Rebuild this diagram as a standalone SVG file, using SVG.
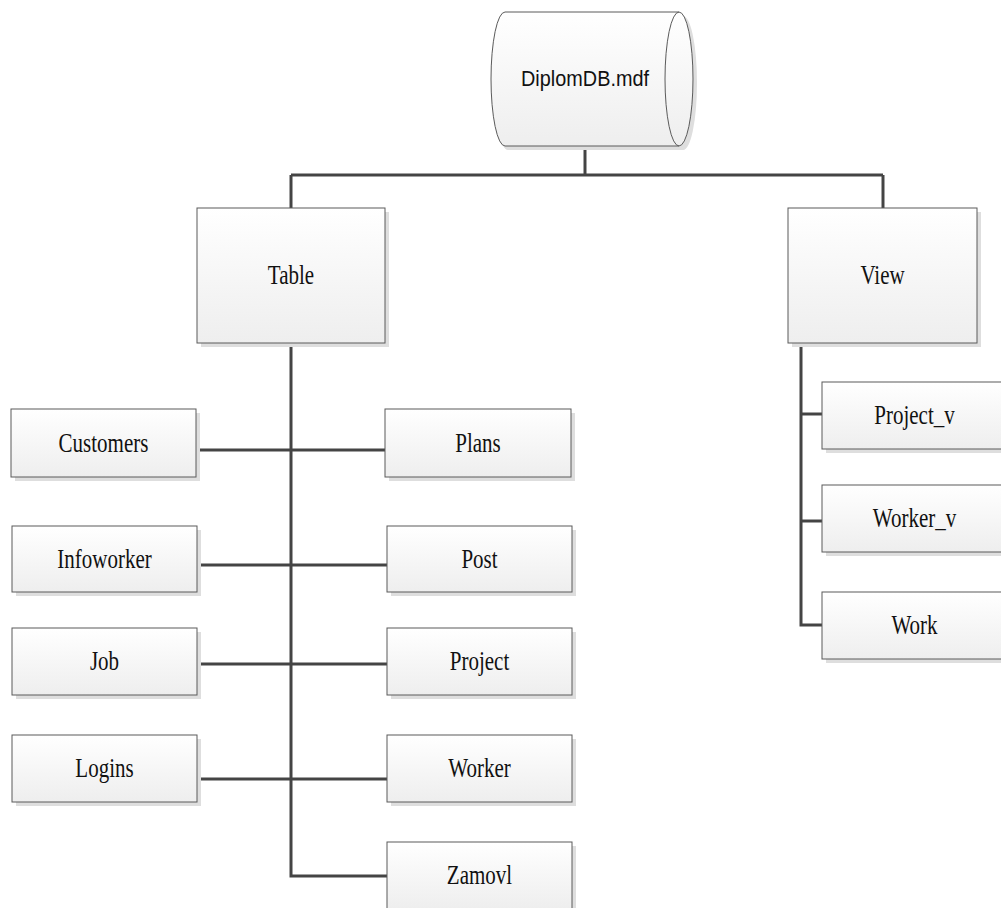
<svg xmlns="http://www.w3.org/2000/svg" width="1001" height="908" viewBox="0 0 1001 908">
  <style>
    .box { fill: url(#g); stroke: #5a5a5a; stroke-width: 1; }
    .sh { fill: #dedede; }
    .lbl { font-family: "Liberation Serif", "Times New Roman", serif; font-size: 21px; fill: #111; text-anchor: middle; }
    .sans { font-family: "Liberation Sans", Arial, sans-serif; font-size: 19px; fill: #111; text-anchor: middle; }
    .con { fill: none; stroke: #444; stroke-width: 3; }
  </style>
  <defs>
    <linearGradient id="g" x1="0" y1="0" x2="0" y2="1">
      <stop offset="0" stop-color="#ffffff"/>
      <stop offset="1" stop-color="#eeeeee"/>
    </linearGradient>
  </defs>
  <rect width="1001" height="908" fill="#ffffff"/>

  <g id="connectors">
    <path class="con" d="M585,146 V175"/>
    <path class="con" d="M291,175 H883"/>
    <path class="con" d="M291,175 V208"/>
    <path class="con" d="M883,175 V208"/>
    <path class="con" d="M291,343 V876 H387"/>
    <path class="con" d="M193,450 H385"/>
    <path class="con" d="M197,565 H387"/>
    <path class="con" d="M197,664 H387"/>
    <path class="con" d="M197,779 H387"/>
    <path class="con" d="M801,342 V625 H822"/>
    <path class="con" d="M801,414 H822"/>
    <path class="con" d="M801,521 H822"/>
  </g>

  <g id="db">
    <path class="sh" d="M508,16 L683,16 A14,67 0 0 1 683,150 L508,150 A14,67 0 0 1 508,16 Z"/>
    <path class="box" d="M505,12 L679,12 A14,67 0 0 1 679,146 L505,146 A14,67 0 0 1 505,12 Z"/>
    <path fill="none" stroke="#5a5a5a" stroke-width="1" d="M679,12 A14,67 0 0 0 679,146"/>
    <text class="sans" transform="translate(585,86) scale(1,1.15)" textLength="128" lengthAdjust="spacingAndGlyphs">DiplomDB.mdf</text>
  </g>

  <g id="table">
    <rect class="sh" x="201" y="212" width="188" height="135"/>
    <rect class="box" x="197" y="208" width="188" height="135"/>
    <text class="lbl" transform="translate(291,284) scale(1,1.27)">Table</text>
  </g>
  <g id="view">
    <rect class="sh" x="792" y="212" width="189" height="135"/>
    <rect class="box" x="788" y="208" width="189" height="135"/>
    <text class="lbl" transform="translate(882.5,284) scale(1,1.27)">View</text>
  </g>

  <g id="customers">
    <rect class="sh" x="15" y="413" width="185" height="68"/>
    <rect class="box" x="11" y="409" width="185" height="68"/>
    <text class="lbl" transform="translate(103.5,452) scale(1,1.27)">Customers</text>
  </g>
  <g id="plans">
    <rect class="sh" x="389" y="413" width="186" height="68"/>
    <rect class="box" x="385" y="409" width="186" height="68"/>
    <text class="lbl" transform="translate(478,452) scale(1,1.27)">Plans</text>
  </g>
  <g id="infoworker">
    <rect class="sh" x="16" y="530" width="185" height="66"/>
    <rect class="box" x="12" y="526" width="185" height="66"/>
    <text class="lbl" transform="translate(104.5,568) scale(1,1.27)">Infoworker</text>
  </g>
  <g id="post">
    <rect class="sh" x="391" y="530" width="185" height="66"/>
    <rect class="box" x="387" y="526" width="185" height="66"/>
    <text class="lbl" transform="translate(479.5,568) scale(1,1.27)">Post</text>
  </g>
  <g id="job">
    <rect class="sh" x="16" y="632" width="185" height="67"/>
    <rect class="box" x="12" y="628" width="185" height="67"/>
    <text class="lbl" transform="translate(104.5,670) scale(1,1.27)">Job</text>
  </g>
  <g id="project">
    <rect class="sh" x="391" y="632" width="185" height="67"/>
    <rect class="box" x="387" y="628" width="185" height="67"/>
    <text class="lbl" transform="translate(479.5,670) scale(1,1.27)">Project</text>
  </g>
  <g id="logins">
    <rect class="sh" x="16" y="739" width="185" height="67"/>
    <rect class="box" x="12" y="735" width="185" height="67"/>
    <text class="lbl" transform="translate(104.5,777) scale(1,1.27)">Logins</text>
  </g>
  <g id="worker">
    <rect class="sh" x="391" y="739" width="185" height="67"/>
    <rect class="box" x="387" y="735" width="185" height="67"/>
    <text class="lbl" transform="translate(479.5,777) scale(1,1.27)">Worker</text>
  </g>
  <g id="zamovl">
    <rect class="sh" x="391" y="846" width="185" height="67"/>
    <rect class="box" x="387" y="842" width="185" height="67"/>
    <text class="lbl" transform="translate(479.5,884) scale(1,1.27)">Zamovl</text>
  </g>
  <g id="project_v">
    <rect class="sh" x="826" y="386" width="185" height="67"/>
    <rect class="box" x="822" y="382" width="185" height="67"/>
    <text class="lbl" transform="translate(914.5,424) scale(1,1.27)">Project_v</text>
  </g>
  <g id="worker_v">
    <rect class="sh" x="826" y="489" width="185" height="67"/>
    <rect class="box" x="822" y="485" width="185" height="67"/>
    <text class="lbl" transform="translate(914.5,527) scale(1,1.27)">Worker_v</text>
  </g>
  <g id="work">
    <rect class="sh" x="826" y="596" width="185" height="67"/>
    <rect class="box" x="822" y="592" width="185" height="67"/>
    <text class="lbl" transform="translate(914.5,634) scale(1,1.27)">Work</text>
  </g>
</svg>
